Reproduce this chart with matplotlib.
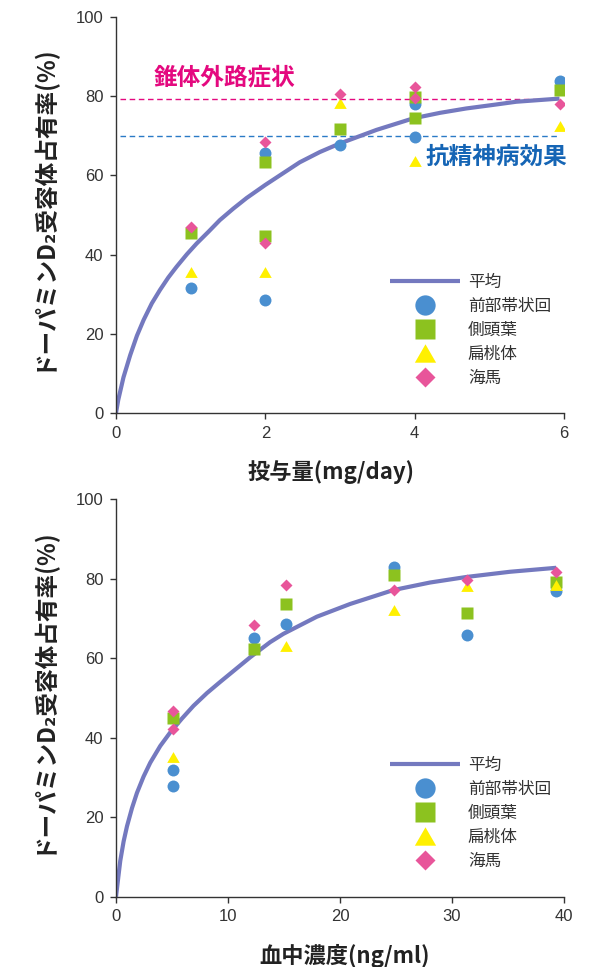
import matplotlib
matplotlib.use('Agg')
import matplotlib.pyplot as plt

plt.rcParams['font.family'] = ['Liberation Sans', 'Noto Sans CJK JP', 'DejaVu Sans']
JP = ['Noto Sans CJK JP', 'DejaVu Sans']

# --- data: dose (mg/day) vs D2 occupancy (%) ---
dose_curve_x = [0, 0.03, 0.1, 0.19, 0.28, 0.37, 0.48, 0.59, 0.70, 0.81, 0.95, 1.08,
                1.24, 1.39, 1.57, 1.75, 2.0, 2.46, 2.73, 2.99, 3.49, 3.98, 4.34,
                4.69, 5.05, 5.36, 5.94]
dose_curve_y = [0, 3.3, 9.0, 14.6, 19.5, 23.5, 27.7, 31.1, 34.2, 36.9, 40.1, 42.8,
                45.8, 48.7, 51.6, 54.3, 57.6, 63.3, 65.9, 68.0, 71.5, 74.4, 75.8,
                76.9, 77.8, 78.6, 79.4]

dose_acc_x = [1, 2, 2, 3, 4, 4, 5.95]
dose_acc_y = [31.6, 65.7, 28.5, 67.7, 78.0, 69.8, 83.8]
dose_tmp_x = [1, 2, 2, 3, 4, 4, 5.95]
dose_tmp_y = [45.4, 63.5, 44.7, 71.7, 79.9, 74.6, 81.6]
dose_amy_x = [1, 2, 3, 4, 5.95]
dose_amy_y = [35.7, 35.7, 78.2, 63.7, 72.6]
dose_hip_x = [1, 2, 2, 3, 4, 4, 5.95]
dose_hip_y = [47.0, 68.5, 43.0, 80.6, 82.2, 79.5, 78.0]

eps_level = 79.4   # 錐体外路症状
eff_level = 70.0   # 抗精神病効果

# --- data: plasma concentration (ng/ml) vs D2 occupancy (%) ---
conc_curve_x = [0, 0.23, 0.38, 0.68, 0.98, 1.43, 1.87, 2.46, 3.06, 3.95, 4.84, 5.89,
                6.92, 8.12, 9.30, 10.64, 11.98, 13.76, 14.95, 17.93, 20.9, 24.76,
                28.04, 31.3, 35.17, 39.3]
conc_curve_y = [0, 5.5, 9.0, 13.9, 17.7, 22.3, 26.1, 30.2, 33.7, 37.9, 41.3, 44.8,
                48.0, 51.2, 54.0, 57.1, 60.2, 64.0, 66.1, 70.4, 73.6, 77.1,
                79.0, 80.4, 81.7, 82.7]

conc_acc_x = [5.1, 5.1, 12.3, 15.2, 24.8, 31.3, 39.3]
conc_acc_y = [31.8, 27.8, 65.0, 68.6, 82.9, 65.8, 76.8]
conc_tmp_x = [5.1, 12.3, 15.2, 24.8, 31.3, 39.3]
conc_tmp_y = [44.9, 62.3, 73.7, 80.8, 71.4, 79.1]
conc_amy_x = [5.1, 15.2, 24.8, 31.3, 39.3]
conc_amy_y = [35.1, 63.1, 72.0, 78.0, 78.4]
conc_hip_x = [5.1, 5.1, 12.3, 15.2, 24.8, 31.3, 39.3]
conc_hip_y = [46.7, 42.1, 68.2, 78.5, 77.2, 79.7, 81.7]

series_names = ['前部帯状回', '側頭葉', '扁桃体', '海馬']
mean_name = '平均'

CURVE = '#7479bf'
COLS = ['#4a8fd0', '#8cc21f', '#fff000', '#e8559a']
TRI = [(-1, -0.866), (1, -0.866), (0, 0.866)]
MARKERS = ['o', 's', TRI, 'D']
SIZES = [8.6, 8.5, 9, 6.1]
AXC = '#333333'


def draw(ax, cx, cy, pts, xmax, xticks):
    ax.plot(cx, cy, color=CURVE, lw=3, label=mean_name, zorder=2,
            solid_joinstyle='round', solid_capstyle='butt')
    for (xs, ys), name, mk, ms, col in zip(pts, series_names, MARKERS, SIZES, COLS):
        ax.plot(xs, ys, linestyle='none', marker=mk, ms=ms, color=col, mec='none',
                label=name, zorder=3)
    ax.set_xlim(0, xmax)
    ax.set_ylim(0, 100)
    ax.set_xticks(xticks)
    ax.set_yticks([0, 20, 40, 60, 80, 100])
    for s in ['top', 'right']:
        ax.spines[s].set_visible(False)
    for s in ['left', 'bottom']:
        ax.spines[s].set_color(AXC)
        ax.spines[s].set_linewidth(1.0)
    ax.tick_params(direction='out', length=4, width=1, color=AXC, labelcolor=AXC,
                   labelsize=12, pad=5)
    ax.set_ylabel('ドーパミンD₂受容体占有率(%)', family=JP, fontsize=17,
                  fontweight='bold', color='#222222', va='center')
    ax.yaxis.set_label_coords(-0.165, 0.52)
    leg = ax.legend(loc='upper left', bbox_to_anchor=(0.592, 0.372), frameon=False,
                    markerscale=1.7, handlelength=4.2, handletextpad=0.5,
                    borderpad=0, labelspacing=0.42,
                    prop={'family': JP, 'size': 12})
    for t in leg.get_texts():
        t.set_color(AXC)


fig = plt.figure(figsize=(5.94, 9.67), dpi=100)

ax1 = fig.add_axes([116 / 594, 1 - 413 / 967, 448 / 594, 396 / 967])
ax1.hlines(eps_level, 0.05, 5.95, color='#e4097f', lw=1.0, linestyles=(0, (4, 2.6)), zorder=1)
ax1.hlines(eff_level, 0.05, 5.95, color='#2a7ac6', lw=1.0, linestyles=(0, (4, 2.6)), zorder=1)
draw(ax1, dose_curve_x, dose_curve_y,
     [(dose_acc_x, dose_acc_y), (dose_tmp_x, dose_tmp_y),
      (dose_amy_x, dose_amy_y), (dose_hip_x, dose_hip_y)],
     6, [0, 2, 4, 6])
ax1.text(0.5, 84.7, '錐体外路症状', family=JP, fontsize=17, fontweight='bold',
         color='#e4097f', ha='left', va='center')
ax1.text(4.14, 64.6, '抗精神病効果', family=JP, fontsize=17, fontweight='bold',
         color='#1565b5', ha='left', va='center')
ax1.set_xlabel('投与量(mg/day)', family=JP, fontsize=16, fontweight='bold',
               color='#222222', va='center')
ax1.xaxis.set_label_coords(0.48, -0.149)

ax2 = fig.add_axes([116 / 594, 1 - 896.7 / 967, 448 / 594, 397.7 / 967])
draw(ax2, conc_curve_x, conc_curve_y,
     [(conc_acc_x, conc_acc_y), (conc_tmp_x, conc_tmp_y),
      (conc_amy_x, conc_amy_y), (conc_hip_x, conc_hip_y)],
     40, [0, 10, 20, 30, 40])
ax2.set_xlabel('血中濃度(ng/ml)', family=JP, fontsize=16, fontweight='bold',
               color='#222222', va='center')
ax2.xaxis.set_label_coords(0.51, -0.148)

fig.savefig('out.png', dpi=100)
